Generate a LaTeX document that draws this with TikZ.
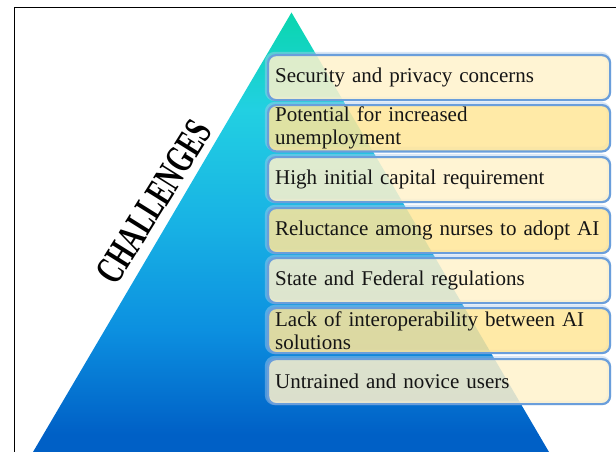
\documentclass[tikz,border=0pt]{standalone}
\usepackage{fontspec}
\setmainfont{Liberation Serif}

% Colours of the pyramid and the boxes
\definecolor{pyrTop}{HTML}{0AD6AE}
\definecolor{pyrCyan}{HTML}{22D0E2}
\definecolor{pyrMid}{HTML}{18B2E4}
\definecolor{pyrLow}{HTML}{0C90E0}
\definecolor{pyrBase}{HTML}{0060C6}
\definecolor{boxLight}{HTML}{FFF2CC}
\definecolor{boxGold}{HTML}{FFE699}
\definecolor{boxEdge}{HTML}{6A9EDB}
\definecolor{inkText}{HTML}{151515}

% Vertical gradient of the pyramid (bottom -> top, path spans 25bp..75bp)
\pgfdeclareverticalshading{pyramidfade}{100bp}{%
  color(0bp)=(pyrBase);
  color(25bp)=(pyrBase);
  color(27bp)=(pyrBase);
  color(39bp)=(pyrLow);
  color(51bp)=(pyrMid);
  color(64bp)=(pyrCyan);
  color(75bp)=(pyrTop);
  color(100bp)=(pyrTop)}

\tikzset{
  challenge/.style={
    draw=boxEdge, line width=2.2pt, rounded corners=8pt,
    fill opacity=0.86, text opacity=1,
    minimum width=342pt, minimum height=45pt,
    text width=328pt, align=left, inner xsep=7pt, inner ysep=2pt,
    anchor=north west, font=\fontsize{21}{23}\selectfont, text=inkText},
  lightbox/.style={challenge, fill=boxLight},
  goldbox/.style={challenge, fill=boxGold},
  halo/.style={draw=boxEdge!55, line width=4.4pt, rounded corners=8pt, opacity=0.45},
  frameline/.style={draw=black, line width=1.1pt},
  title/.style={font=\fontsize{40}{40}\bfseries\selectfont, text=black, inner sep=0pt}
}

\begin{document}
\begin{tikzpicture}[x=1pt, y=-1pt]
  \useasboundingbox (0,0) rectangle (616,452);
  \clip (0,0) rectangle (616,452);

  % outer frame (left and top edges)
  \draw[frameline] (14.5,452) -- (14.5,7.5) -- (616,7.5);

  % pyramid
  \coordinate (apex) at (291.5,12.5);
  \coordinate (baseL) at (33,452);
  \coordinate (baseR) at (549,452);
  \shade[shading=pyramidfade] (apex) -- (baseL) -- (baseR) -- cycle;

  % heading along the left slope, in a narrowed bold face
  \node[title, rotate=58, anchor=center] (head) at (154,202)
    {\scalebox{0.66}[1]{CHALLENGES}};

  % soft halo drawn first, behind each box
  \foreach \y in {54,104,156,207,257,307,358}{
    \draw[halo] (267,\y) rectangle ++(342,45);
  }

  % challenge boxes
  \node[lightbox] (c1) at (267,54)  {Security and privacy concerns};
  \node[goldbox]  (c2) at (267,104) {Potential for increased\\unemployment};
  \node[lightbox] (c3) at (267,156) {High initial capital requirement};
  \node[goldbox]  (c4) at (267,207) {Reluctance among nurses to adopt AI};
  \node[lightbox] (c5) at (267,257) {State and Federal regulations};
  \node[goldbox]  (c6) at (267,307) {Lack of interoperability between AI\\solutions};
  \node[lightbox] (c7) at (267,358) {Untrained and novice users};
\end{tikzpicture}
\end{document}
